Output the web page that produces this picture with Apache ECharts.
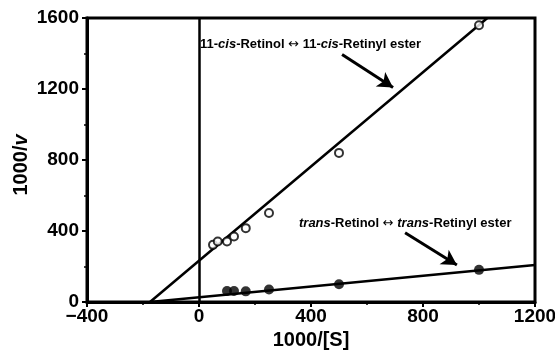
<!DOCTYPE html>
<html><head><meta charset="utf-8">
<script src="https://cdn.jsdelivr.net/npm/echarts@6/dist/echarts.min.js"></script>
<style>html,body{margin:0;padding:0;background:#fff}#c{width:555px;height:354px}</style>
</head><body><div id="c"></div>
<script>
// 11-cis-Retinol ↔ 11-cis-Retinyl ester (open circles)
const cisX = [50, 67, 100, 125, 167, 250, 500, 1000];
const cisY = [322, 341, 341, 369, 416, 501, 840, 1559];
// trans-Retinol ↔ trans-Retinyl ester (filled circles)
const transX = [100, 125, 167, 250, 500, 1000];
const transY = [62, 62, 60, 70, 100, 181];
// fitted lines (endpoints)
const cisFitX = [-175, 1030];
const cisFitY = [0, 1600];
const transFitX = [-175, 1200];
const transFitY = [0, 209];
// annotation arrows (data coords: start, tip)
const arrowCis = [[511, 1395], [693, 1209]];
const arrowTrans = [[736, 390], [921, 209]];
// axes
const xTicks = [-400, 0, 400, 800, 1200];
const yTicks = [0, 400, 800, 1200, 1600];

const FONT = "'Liberation Sans', Arial, sans-serif";
const zip = (a, b) => a.map((v, i) => [v, b[i]]);
const arrowLine = (a) => [{coord: a[0]}, {coord: a[1]}];
const annRich = {
  i: {fontFamily: FONT, fontWeight: 'bold', fontStyle: 'italic', fontSize: 13, fill: '#000'},
  a: {fontFamily: "'DejaVu Sans', sans-serif", fontWeight: 'normal', fontSize: 13, fill: '#000'}
};

const chart = echarts.init(document.getElementById('c'), null, {renderer: 'canvas'});
chart.setOption({
  animation: false,
  backgroundColor: '#fff',
  grid: {left: 87, right: 20, top: 18, bottom: 52, show: true, borderColor: '#000', borderWidth: 3,
    backgroundColor: 'transparent', containLabel: false, outerBoundsMode: 'none'},
  xAxis: {
    type: 'value', min: xTicks[0], max: xTicks[xTicks.length - 1], interval: 400,
    name: '1000/[S]', nameLocation: 'middle', nameGap: 26,
    nameTextStyle: {fontFamily: FONT, fontWeight: 'bold', fontSize: 20, color: '#000'},
    axisLine: {onZero: false, lineStyle: {color: '#000', width: 3}},
    axisTick: {show: true, length: 5, lineStyle: {color: '#000', width: 2}},
    minorTick: {show: true, splitNumber: 2, length: 3, lineStyle: {color: '#000', width: 1.5}},
    axisLabel: {fontFamily: FONT, fontWeight: 'bold', fontSize: 19, color: '#000', margin: 5,
      formatter: v => (v < 0 ? '\u2212' + (-v) : String(v))},
    splitLine: {show: false}
  },
  yAxis: {
    type: 'value', min: yTicks[0], max: yTicks[yTicks.length - 1], interval: 400,
    axisLine: {onZero: false, lineStyle: {color: '#000', width: 3}},
    axisTick: {show: true, length: 5, lineStyle: {color: '#000', width: 2}},
    minorTick: {show: true, splitNumber: 2, length: 3, lineStyle: {color: '#000', width: 1.5}},
    axisLabel: {fontFamily: FONT, fontWeight: 'bold', fontSize: 19, color: '#000', margin: 8,
      formatter: v => String(v)},
    splitLine: {show: false}
  },
  series: [
    {
      type: 'line', data: zip(cisFitX, cisFitY), symbol: 'none', silent: true,
      lineStyle: {color: '#000', width: 2.5}, z: 2,
      markLine: {
        silent: true, symbol: ['none', 'none'], label: {show: false},
        lineStyle: {color: '#000', width: 2.5, type: 'solid'},
        data: [{xAxis: 0}]
      }
    },
    {
      type: 'line', data: zip(transFitX, transFitY), symbol: 'none', silent: true,
      lineStyle: {color: '#000', width: 2.5}, z: 2,
      markLine: {
        silent: true, symbol: ['none', 'arrow'], symbolSize: [13, 15], label: {show: false},
        lineStyle: {color: '#000', width: 3, type: 'solid'},
        data: [arrowLine(arrowCis), arrowLine(arrowTrans)]
      }
    },
    {
      type: 'scatter', data: zip(cisX, cisY), symbol: 'circle', symbolSize: 8,
      itemStyle: {color: '#fff', borderColor: '#000', borderWidth: 2}, z: 5
    },
    {
      type: 'scatter', data: zip(transX, transY), symbol: 'circle', symbolSize: 10,
      itemStyle: {color: '#000'}, z: 5
    }
  ],
  graphic: [
    {
      type: 'text', x: 21, y: 165, rotation: Math.PI / 2, z: 10,
      style: {
        text: '1000/{i|v}', font: 'bold 20px ' + FONT, fill: '#000',
        align: 'center', verticalAlign: 'middle',
        rich: {i: {fontFamily: FONT, fontWeight: 'bold', fontStyle: 'italic', fontSize: 20, fill: '#000'}}
      }
    },
    {
      type: 'text', left: 200, top: 38, z: 10,
      style: {
        text: '11-{i|cis}-Retinol {a|\u2194} 11-{i|cis}-Retinyl ester',
        font: 'bold 13px ' + FONT, fill: '#000', rich: annRich
      }
    },
    {
      type: 'text', left: 299, top: 217, z: 10,
      style: {
        text: '{i|trans}-Retinol {a|\u2194} {i|trans}-Retinyl ester',
        font: 'bold 13px ' + FONT, fill: '#000', rich: annRich
      }
    }
  ]
});
</script>
</body></html>
